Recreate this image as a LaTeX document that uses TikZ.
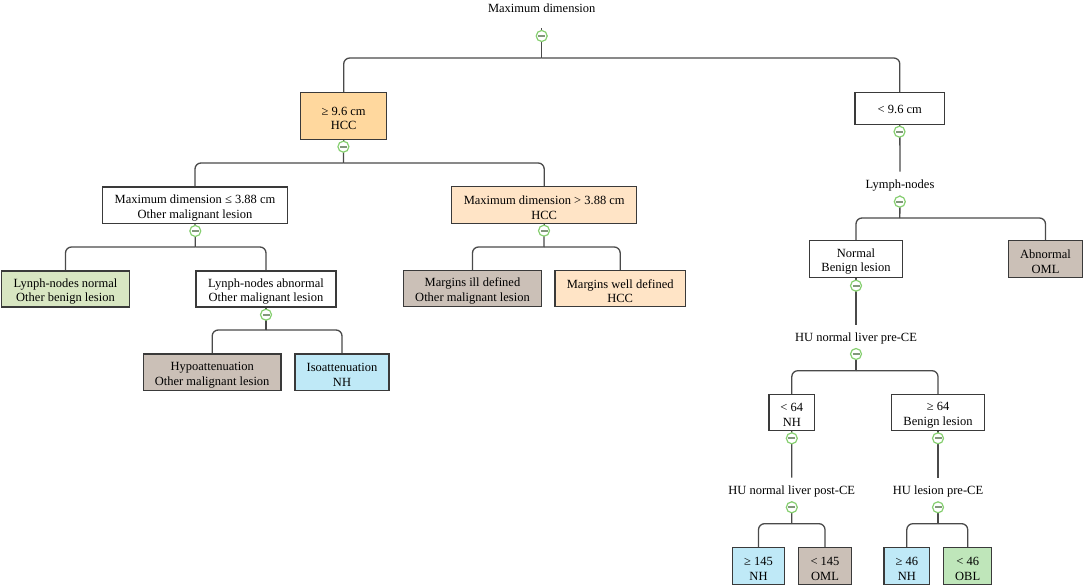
\documentclass[tikz,border=0pt]{standalone}
\usepackage{fontspec}
\setmainfont{Liberation Serif}
\usetikzlibrary{backgrounds}
\definecolor{linec}{HTML}{4A4A4A}
\definecolor{boxline}{HTML}{3A3A3A}
\definecolor{hccstrong}{HTML}{FFD89E}
\definecolor{hccpale}{HTML}{FFE4C6}
\definecolor{oml}{HTML}{CBC0B7}
\definecolor{benign}{HTML}{D8E6C2}
\definecolor{nh}{HTML}{BFE9F7}
\definecolor{obl}{HTML}{BFE6BA}
\definecolor{togglec}{HTML}{86CF70}
\newcommand{\topgap}[1]{\rule{0pt}{#1}}
\tikzset{
  x=1pt,y=-1pt,
  every node/.style={font=\fontsize{12.5}{14.7}\selectfont,text=black,outer sep=0pt},
  box/.style={draw=boxline,line width=1.3pt,align=center,inner sep=0pt,fill=white},
  lbl/.style={align=center,inner sep=0pt,minimum height=24pt},
  toggle/.style={circle,draw=togglec,line width=1.2pt,fill=white,minimum size=11pt,inner sep=0pt,
    path picture={\fill[gray!70!togglec] ([xshift=-3.5pt,yshift=-1pt]path picture bounding box.center) rectangle ([xshift=3.5pt,yshift=1pt]path picture bounding box.center);}},
  conn/.style={draw=linec,line width=1.3pt},
  branch/.style={conn,rounded corners=6pt},
}
\begin{document}
\begin{tikzpicture}
\useasboundingbox (0,0) rectangle (1084,585);
% labels
\node[lbl] (root) at (541.7,7) {\topgap{12pt}Maximum dimension};
\node[lbl] (lymph) at (900,183.7) {\topgap{12pt}Lymph-nodes};
\node[lbl] (hupre) at (856,336.7) {\topgap{12pt}HU normal liver pre-CE};
\node[lbl] (hupost) at (791.7,489.7) {\topgap{12pt}HU normal liver post-CE};
\node[lbl] (hules) at (938,489.7) {\topgap{12pt}HU lesion pre-CE};
% boxes
\node[box,fill=hccstrong,minimum width=86pt,minimum height=47pt] (big) at (343.7,115.8) {\topgap{13.5pt}≥ 9.6 cm\\HCC};
\node[box,minimum width=89.7pt,minimum height=32pt] (small) at (899.8,108.7) {\topgap{10pt}< 9.6 cm};
\node[box,minimum width=185.4pt,minimum height=36.7pt] (le) at (195,205.3) {\topgap{13.5pt}Maximum dimension ≤ 3.88 cm\\Other malignant lesion};
\node[box,fill=hccpale,minimum width=185pt,minimum height=37pt] (gt) at (544.2,205.2) {\topgap{13.5pt}Maximum dimension > 3.88 cm\\HCC};
\node[box,fill=benign,minimum width=127.6pt,minimum height=36pt] (lnn) at (65.5,289) {\topgap{13.5pt}Lynph-nodes normal\\Other benign lesion};
\node[box,minimum width=140pt,minimum height=36pt] (lna) at (266,289) {\topgap{13.5pt}Lynph-nodes abnormal\\Other malignant lesion};
\node[box,fill=oml,minimum width=137.7pt,minimum height=36.7pt] (hypo) at (212.2,372.3) {\topgap{13.5pt}Hypoattenuation\\Other malignant lesion};
\node[box,fill=nh,minimum width=94pt,minimum height=36.7pt] (iso) at (342,372.3) {\topgap{13.5pt}Isoattenuation\\NH};
\node[box,fill=oml,minimum width=137.6pt,minimum height=36pt] (ill) at (472.5,288.7) {\topgap{13.5pt}Margins ill defined\\Other malignant lesion};
\node[box,fill=hccpale,minimum width=130.3pt,minimum height=36pt] (well) at (620.2,288.7) {\topgap{13.5pt}Margins well defined\\HCC};
\node[box,minimum width=92.6pt,minimum height=36.6pt] (normal) at (856,259) {\topgap{13.5pt}Normal\\Benign lesion};
\node[box,fill=oml,minimum width=73.6pt,minimum height=36.6pt] (abn) at (1045.5,259) {\topgap{13.5pt}Abnormal\\OML};
\node[box,minimum width=45.7pt,minimum height=36pt] (lt64) at (791.8,412.3) {\topgap{13.5pt}< 64\\NH};
\node[box,minimum width=92.6pt,minimum height=36pt] (ge64) at (938,412.3) {\topgap{13.5pt}≥ 64\\Benign lesion};
\node[box,fill=nh,minimum width=51.6pt,minimum height=37pt] (ge145) at (758.5,566) {\topgap{13.5pt}≥ 145\\NH};
\node[box,fill=oml,minimum width=52.6pt,minimum height=37pt] (lt145) at (825,566) {\topgap{13.5pt}< 145\\OML};
\node[box,fill=nh,minimum width=45.7pt,minimum height=37pt] (ge46) at (906.8,566) {\topgap{13.5pt}≥ 46\\NH};
\node[box,fill=obl,minimum width=48pt,minimum height=37pt] (lt46) at (967.7,566) {\topgap{13.5pt}< 46\\OBL};
% toggles
\node[toggle] (t0) at (541.7,36) {};
\node[toggle] (t1) at (343.4,146.7) {};
\node[toggle] (t2) at (899.5,131.7) {};
\node[toggle] (t3) at (195.3,231) {};
\node[toggle] (t4) at (544,230.7) {};
\node[toggle] (t5) at (266,314.7) {};
\node[toggle] (t6) at (899.8,201.7) {};
\node[toggle] (t7) at (856,285.7) {};
\node[toggle] (t8) at (856,354) {};
\node[toggle] (t9) at (791.8,438.3) {};
\node[toggle] (t10) at (938,438.3) {};
\node[toggle] (t11) at (791.8,507.3) {};
\node[toggle] (t12) at (938,507.3) {};
% branch points
\coordinate (s0) at (541.7,28.5);
\coordinate (b0) at (541.7,58);
\coordinate (b1) at (343.4,163);
\coordinate (b3) at (195.3,247);
\coordinate (b4) at (544,247);
\coordinate (b5) at (266,330);
\coordinate (b6) at (899.8,218);
\coordinate (b8) at (856,370.7);
\coordinate (b11) at (791.8,523.7);
\coordinate (b12) at (938,523.7);
\begin{pgfonlayer}{background}
\draw[conn] (s0) -- (b0);
\draw[branch] (b0) -| (big.north);
\draw[branch] (b0) -| (small.north);
\draw[conn] (big.south) -- (b1);
\draw[branch] (b1) -| (le.north);
\draw[branch] (b1) -| (gt.north);
\draw[conn] (le.south) -- (b3);
\draw[branch] (b3) -| (lnn.north);
\draw[branch] (b3) -| (lna.north);
\draw[conn] (gt.south) -- (b4);
\draw[branch] (b4) -| (ill.north);
\draw[branch] (b4) -| (well.north);
\draw[conn] (lna.south) -- (b5);
\draw[branch] (b5) -| (hypo.north);
\draw[branch] (b5) -| (iso.north);
\draw[conn] (small.south) -- (lymph.north);
\draw[conn] (lymph.south) -- (b6);
\draw[branch] (b6) -| (normal.north);
\draw[branch] (b6) -| (abn.north);
\draw[conn] (normal.south) -- (hupre.north);
\draw[conn] (hupre.south) -- (b8);
\draw[branch] (b8) -| (lt64.north);
\draw[branch] (b8) -| (ge64.north);
\draw[conn] (lt64.south) -- (hupost.north);
\draw[conn] (ge64.south) -- (hules.north);
\draw[conn] (hupost.south) -- (b11);
\draw[branch] (b11) -| (ge145.north);
\draw[branch] (b11) -| (lt145.north);
\draw[conn] (hules.south) -- (b12);
\draw[branch] (b12) -| (ge46.north);
\draw[branch] (b12) -| (lt46.north);
\end{pgfonlayer}
\end{tikzpicture}
\end{document}
